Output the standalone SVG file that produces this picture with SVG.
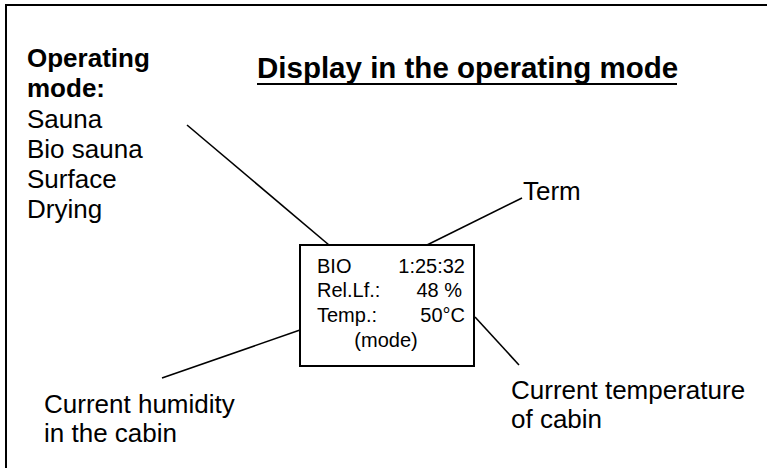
<svg xmlns="http://www.w3.org/2000/svg" width="767" height="468" viewBox="0 0 767 468">
<style>
text{font-family:"Liberation Sans",Arial,sans-serif;fill:#000}
.lbl{font-size:26px}
.bold{font-weight:bold}
.disp{font-size:20px}
.ln{stroke:#000;stroke-width:1.6;fill:none}
</style>
<rect x="0" y="0" width="767" height="468" fill="#fff"/>
<g id="frame">
<polyline points="6,470 6,5 770,5" fill="none" stroke="#000" stroke-width="2"/>
</g>
<g id="title">
<text x="257" y="78" class="bold" font-size="29.5">Display in the operating mode</text>
<line x1="257" y1="84" x2="677" y2="84" stroke="#000" stroke-width="2.2"/>
</g>
<g id="operating-mode">
<text class="lbl bold" x="27" y="67">Operating</text>
<text class="lbl bold" x="27" y="97">mode:</text>
<text class="lbl" x="27" y="128">Sauna</text>
<text class="lbl" x="27" y="158">Bio sauna</text>
<text class="lbl" x="27" y="188">Surface</text>
<text class="lbl" x="27" y="218">Drying</text>
</g>
<g id="term">
<text class="lbl" x="523" y="200">Term</text>
</g>
<g id="humidity">
<text class="lbl" x="44" y="413">Current humidity</text>
<text class="lbl" x="44" y="442">in the cabin</text>
</g>
<g id="temperature">
<text class="lbl" x="511" y="399">Current temperature</text>
<text class="lbl" x="511" y="428">of cabin</text>
</g>
<g id="display">
<rect x="300" y="245" width="174" height="121" fill="#fff" stroke="#000" stroke-width="2"/>
<text class="disp" x="317" y="273">BIO</text>
<text class="disp" x="465" y="273" text-anchor="end">1:25:32</text>
<text class="disp" x="317" y="297">Rel.Lf.:</text>
<text class="disp" x="462" y="297" text-anchor="end">48 %</text>
<text class="disp" x="317" y="322">Temp.:</text>
<text class="disp" x="465" y="322" text-anchor="end">50°C</text>
<text class="disp" x="386" y="347" text-anchor="middle">(mode)</text>
</g>
<g id="connectors">
<line class="ln" x1="187" y1="125" x2="329" y2="245"/>
<line class="ln" x1="427" y1="245" x2="522" y2="198"/>
<line class="ln" x1="300" y1="330" x2="162" y2="378"/>
<line class="ln" x1="475" y1="317" x2="519" y2="365"/>
</g>
</svg>
